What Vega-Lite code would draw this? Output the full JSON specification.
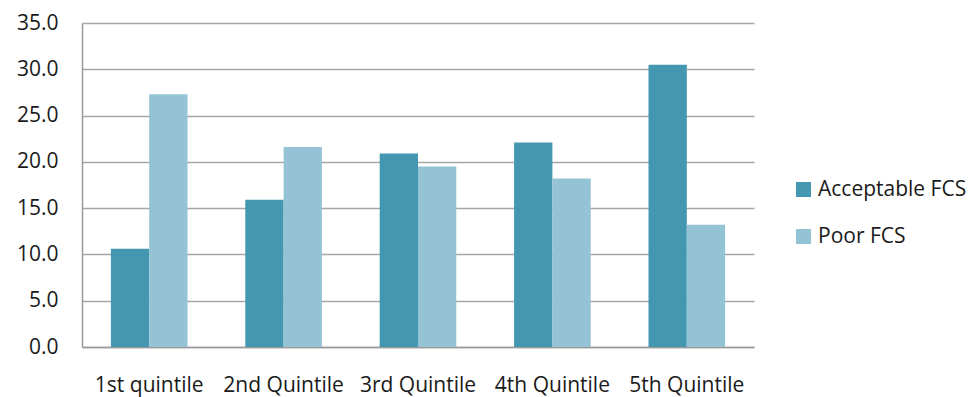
{
  "$schema": "https://vega.github.io/schema/vega-lite/v6.json",
  "width": 672,
  "height": 324,
  "autosize": {"type": "none"},
  "padding": {"left": 82, "top": 23, "right": 218, "bottom": 50},
  "background": "white",
  "config": {
    "view": {"stroke": null},
    "font": "Open Sans",
    "axis": {"labelFont": "Open Sans", "labelColor": "#1a1a1a"},
    "legend": {"labelFont": "Open Sans", "labelColor": "#1a1a1a"}
  },
  "data": {
    "values": [
      {"quintile": "1st quintile", "series": "Acceptable FCS", "value": 10.6},
      {"quintile": "1st quintile", "series": "Poor FCS", "value": 27.3},
      {"quintile": "2nd Quintile", "series": "Acceptable FCS", "value": 15.9},
      {"quintile": "2nd Quintile", "series": "Poor FCS", "value": 21.6},
      {"quintile": "3rd Quintile", "series": "Acceptable FCS", "value": 20.9},
      {"quintile": "3rd Quintile", "series": "Poor FCS", "value": 19.5},
      {"quintile": "4th Quintile", "series": "Acceptable FCS", "value": 22.1},
      {"quintile": "4th Quintile", "series": "Poor FCS", "value": 18.2},
      {"quintile": "5th Quintile", "series": "Acceptable FCS", "value": 30.5},
      {"quintile": "5th Quintile", "series": "Poor FCS", "value": 13.2}
    ]
  },
  "mark": {"type": "bar"},
  "encoding": {
    "x": {
      "field": "quintile",
      "type": "nominal",
      "sort": ["1st quintile", "2nd Quintile", "3rd Quintile", "4th Quintile", "5th Quintile"],
      "scale": {"paddingInner": 0.43, "paddingOuter": 0.215},
      "axis": {
        "title": null,
        "labelAngle": 0,
        "ticks": false,
        "domain": true,
        "domainColor": "#9a9a9a",
        "domainWidth": 1.5,
        "labelFontSize": 21,
        "labelPadding": 27
      }
    },
    "xOffset": {
      "field": "series",
      "sort": ["Acceptable FCS", "Poor FCS"]
    },
    "y": {
      "field": "value",
      "type": "quantitative",
      "scale": {"domain": [0, 35]},
      "axis": {
        "title": null,
        "values": [0, 5, 10, 15, 20, 25, 30, 35],
        "format": ".1f",
        "ticks": false,
        "domain": true,
        "domainColor": "#9a9a9a",
        "domainWidth": 1.5,
        "gridColor": "#a6a6a6",
        "gridWidth": 1.5,
        "labelFontSize": 21,
        "labelPadding": 24
      }
    },
    "color": {
      "field": "series",
      "type": "nominal",
      "scale": {
        "domain": ["Acceptable FCS", "Poor FCS"],
        "range": ["#4397b0", "#93c3d5"]
      },
      "legend": {
        "title": null,
        "orient": "none",
        "legendX": 711,
        "legendY": 156,
        "padding": 0,
        "symbolType": "square",
        "symbolSize": 225,
        "symbolStrokeWidth": 0,
        "labelFontSize": 21,
        "labelOffset": 4,
        "rowPadding": 25
      }
    }
  }
}
